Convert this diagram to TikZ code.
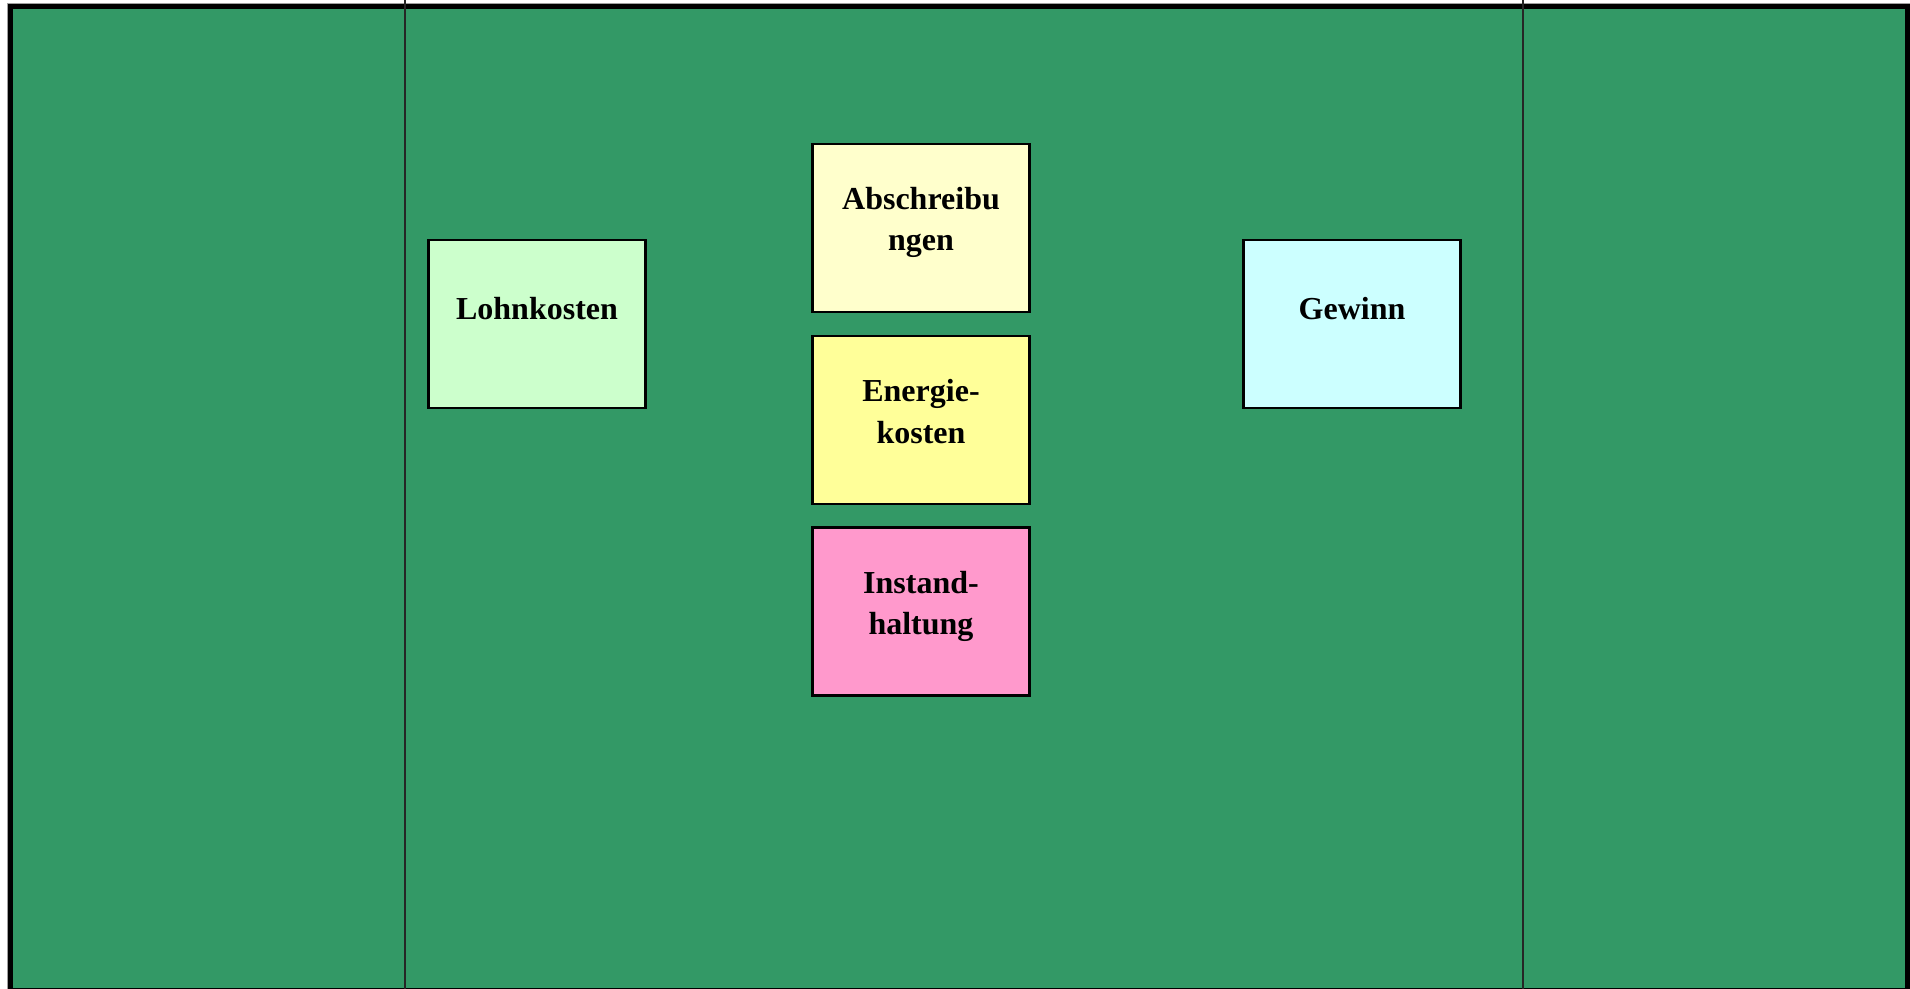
\documentclass[tikz,border=0pt]{standalone}
\usepackage{fontspec}
\setmainfont{Liberation Serif}
\definecolor{bggreen}{HTML}{339966}
\definecolor{cLohn}{HTML}{CCFFCC}
\definecolor{cAbs}{HTML}{FFFFCC}
\definecolor{cEn}{HTML}{FFFF99}
\definecolor{cInst}{HTML}{FF99CC}
\definecolor{cGew}{HTML}{CCFFFF}
\definecolor{edgegray}{HTML}{A0A0A0}
\tikzset{
  costbox/.style={draw=black, line width=1.1pt, minimum width=108.5pt, minimum height=84pt, inner sep=0pt},
  boxtext/.style={font=\fontsize{16pt}{20.7pt}\selectfont\bfseries, align=center, inner sep=0pt, text=black},
  divider/.style={draw=black!85, line width=0.75pt}
}
\begin{document}
\begin{tikzpicture}[x=0.5pt, y=-0.5pt]
\useasboundingbox (0,0) rectangle (1910,989);
\clip (0,0) rectangle (1910,989);
\fill[white] (0,0) rectangle (1910,989);
\draw[edgegray, line width=0.5pt] (7.5,989) -- (7.5,3.5) -- (1910,3.5);
\draw[black, line width=2.5pt, fill=bggreen] (10.5,6.5) rectangle (1907.5,990.5);
\coordinate (d1t) at (405,0);
\coordinate (d1b) at (405,989);
\coordinate (d2t) at (1523,0);
\coordinate (d2b) at (1523,989);
\draw[divider] (d1t) -- (d1b);
\draw[divider] (d2t) -- (d2b);
\node[costbox, fill=cLohn] (loh) at (537,324) {};
\node[costbox, fill=cAbs] (abs) at (921,228) {};
\node[costbox, fill=cEn] (en) at (921,420) {};
\node[costbox, fill=cInst] (inst) at (921,611.5) {};
\node[costbox, fill=cGew] (gew) at (1352,324) {};
\node[boxtext] (lohT) at (537,309) {Lohnkosten};
\node[boxtext] (absT) at (921,222.5) {Abschreibu\\ngen};
\node[boxtext] (enT) at (921,411.5) {Energie-\\kosten};
\node[boxtext] (instT) at (921,606.5) {Instand-\\haltung};
\node[boxtext] (gewT) at (1352,309) {Gewinn};
\end{tikzpicture}
\end{document}
